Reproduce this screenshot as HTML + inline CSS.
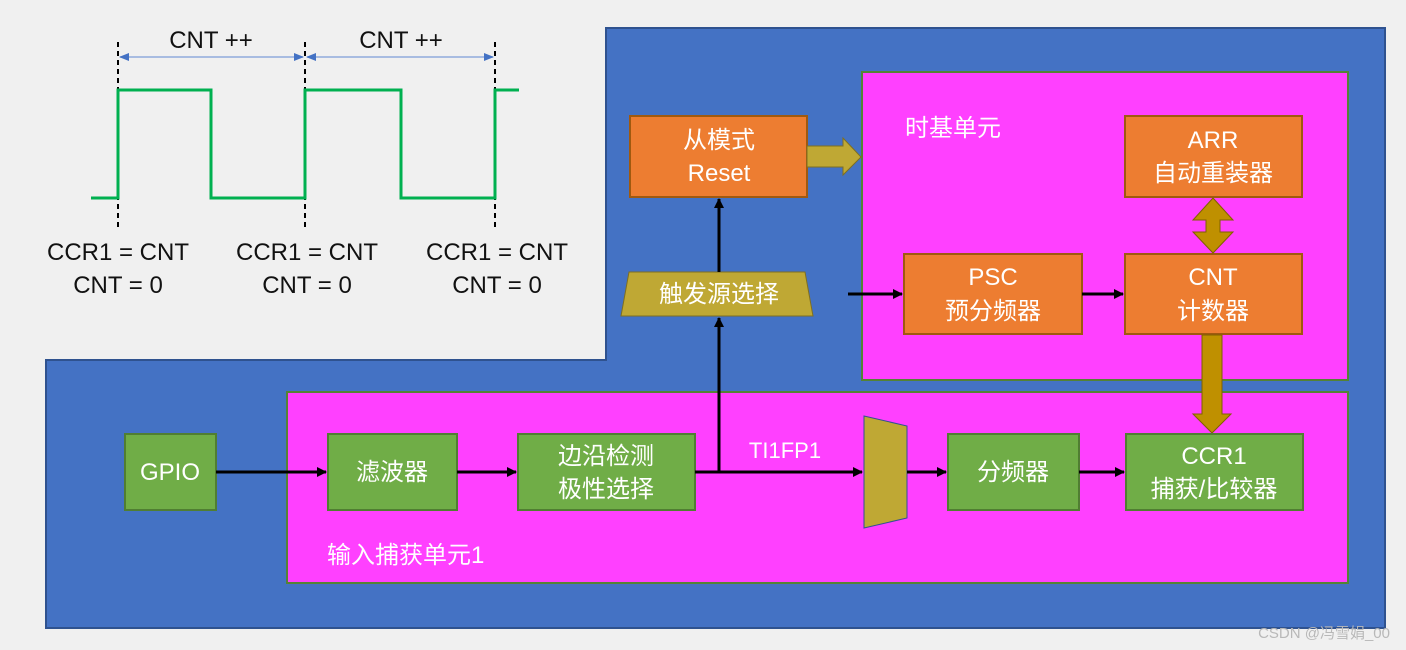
<!DOCTYPE html>
<html><head><meta charset="utf-8"><style>
html,body{margin:0;padding:0;background:#f0f0f0;}
svg{display:block;font-family:"Liberation Sans","Noto Sans CJK SC",sans-serif;}
.w{fill:#fff;font-size:24px;text-anchor:middle;}
.k{fill:#111;font-size:24px;text-anchor:middle;}
</style></head><body>
<svg width="1406" height="650" viewBox="0 0 1406 650" xmlns="http://www.w3.org/2000/svg">
<defs>
<marker id="a" markerWidth="10" markerHeight="10" refX="9" refY="5" orient="auto" markerUnits="userSpaceOnUse"><path d="M0,0 L10,5 L0,10 z" fill="#000"/></marker>
<marker id="b" markerWidth="10" markerHeight="10" refX="9" refY="5" orient="auto-start-reverse" markerUnits="userSpaceOnUse"><path d="M0,1 L10,5 L0,9 z" fill="#4472c4"/></marker>
</defs>
<rect width="1406" height="650" fill="#f0f0f0"/>
<polygon points="606,28 1385,28 1385,628 46,628 46,360 606,360" fill="#4472c4" stroke="#2f528f" stroke-width="2"/>
<rect x="862" y="72" width="486" height="308" fill="#ff40ff" stroke="#548235" stroke-width="2"/>
<text x="905" y="136" fill="#fff" font-size="24">时基单元</text>
<rect x="287" y="392" width="1061" height="191" fill="#ff40ff" stroke="#548235" stroke-width="2"/>
<text x="327" y="563" fill="#fff" font-size="24">输入捕获单元1</text>
<g fill="#ed7d31" stroke="#a0590f" stroke-width="2">
<rect x="630" y="116" width="177" height="81"/>
<rect x="904" y="254" width="178" height="80"/>
<rect x="1125" y="116" width="177" height="81"/>
<rect x="1125" y="254" width="177" height="80"/>
</g>
<text class="w" x="719" y="148">从模式</text><text class="w" x="719" y="181">Reset</text>
<text class="w" x="993" y="285">PSC</text><text class="w" x="993" y="319">预分频器</text>
<text class="w" x="1213" y="148">ARR</text><text class="w" x="1213" y="181">自动重装器</text>
<text class="w" x="1213" y="285">CNT</text><text class="w" x="1213" y="319">计数器</text>
<polygon points="807,146 843,146 843,138 861,157 843,175 843,167 807,167" fill="#bfa834" stroke="#7f6f20" stroke-width="1"/>
<polygon points="1213,198 1233,220 1220,220 1220,232 1233,232 1213,253 1193,232 1206,232 1206,220 1193,220" fill="#bf9000" stroke="#7f6000" stroke-width="1"/>
<polygon points="1202,335 1222,335 1222,414 1231,414 1212,433 1193,414 1202,414" fill="#bf9000" stroke="#7f6000" stroke-width="1"/>
<polygon points="629,272 805,272 813,316 621,316" fill="#bfa834" stroke="#7f6f20"/>
<text class="w" x="719" y="302">触发源选择</text>
<g fill="#70ad47" stroke="#507e32" stroke-width="2">
<rect x="125" y="434" width="91" height="76"/>
<rect x="328" y="434" width="129" height="76"/>
<rect x="518" y="434" width="177" height="76"/>
<rect x="948" y="434" width="131" height="76"/>
<rect x="1126" y="434" width="177" height="76"/>
</g>
<text class="w" x="170" y="480">GPIO</text>
<text class="w" x="392" y="480">滤波器</text>
<text class="w" x="606" y="464">边沿检测</text><text class="w" x="606" y="497">极性选择</text>
<text class="w" x="1013" y="480">分频器</text>
<text class="w" x="1214" y="464">CCR1</text><text class="w" x="1214" y="497">捕获/比较器</text>
<polygon points="864,416 907,426 907,518 864,528" fill="#bfa834" stroke="#2f528f"/>
<text x="785" y="458" fill="#fff" font-size="22" text-anchor="middle">TI1FP1</text>
<g stroke="#000" stroke-width="3" fill="none">
<line x1="216" y1="472" x2="326" y2="472" marker-end="url(#a)"/>
<line x1="457" y1="472" x2="516" y2="472" marker-end="url(#a)"/>
<line x1="695" y1="472" x2="862" y2="472" marker-end="url(#a)"/>
<line x1="907" y1="472" x2="946" y2="472" marker-end="url(#a)"/>
<line x1="1079" y1="472" x2="1124" y2="472" marker-end="url(#a)"/>
<line x1="719" y1="472" x2="719" y2="318" marker-end="url(#a)"/>
<line x1="719" y1="272" x2="719" y2="199" marker-end="url(#a)"/>
<line x1="848" y1="294" x2="902" y2="294" marker-end="url(#a)"/>
<line x1="1082" y1="294" x2="1123" y2="294" marker-end="url(#a)"/>
</g>
<g stroke="#000" stroke-width="2" stroke-dasharray="5,4">
<line x1="118" y1="42" x2="118" y2="230"/><line x1="305" y1="42" x2="305" y2="230"/><line x1="495" y1="42" x2="495" y2="230"/>
</g>
<line x1="120" y1="57" x2="303" y2="57" stroke="#8faadc" stroke-width="1.5" marker-start="url(#b)" marker-end="url(#b)"/>
<line x1="307" y1="57" x2="493" y2="57" stroke="#8faadc" stroke-width="1.5" marker-start="url(#b)" marker-end="url(#b)"/>
<polyline points="91,198 118,198 118,90 211,90 211,198 305,198 305,90 401,90 401,198 495,198 495,90 519,90" fill="none" stroke="#00b050" stroke-width="3"/>
<text class="k" x="211" y="48">CNT ++</text><text class="k" x="401" y="48">CNT ++</text>
<text class="k" x="118" y="260">CCR1 = CNT</text><text class="k" x="118" y="293">CNT = 0</text>
<text class="k" x="307" y="260">CCR1 = CNT</text><text class="k" x="307" y="293">CNT = 0</text>
<text class="k" x="497" y="260">CCR1 = CNT</text><text class="k" x="497" y="293">CNT = 0</text>
<text x="1390" y="638" fill="#b8b8b8" font-size="15" text-anchor="end">CSDN @冯雪娟_00</text>
</svg>
</body></html>
